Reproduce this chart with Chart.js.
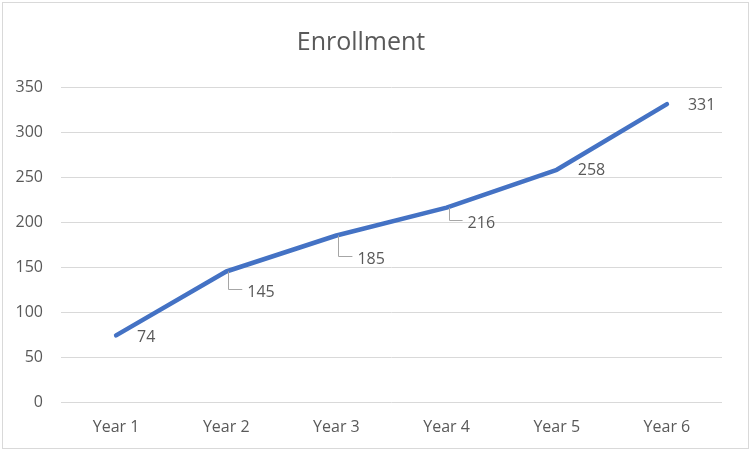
<!DOCTYPE html>
<html>
<head>
<meta charset="utf-8">
<script src="https://cdn.jsdelivr.net/npm/chart.js@4"></script>
<style>
  body { margin: 0; background: #fff; }
  #wrap { width: 752px; height: 452px; }
</style>
</head>
<body>
<div id="wrap"><canvas id="mycanvas" width="752" height="452"></canvas></div>
<script>
var years = ['Year 1', 'Year 2', 'Year 3', 'Year 4', 'Year 5', 'Year 6'];
var enrollment = [74, 145, 185, 216, 258, 331];
var yTicks = [0, 50, 100, 150, 200, 250, 300, 350];

var textColor = '#595959';

// data label placement (offset from point) and which ones get a leader line
var labelOffsets = [[21, 2], [21, 21], [21, 24], [21, 16], [21, 1], [21, 1]];
var leaders = [false, true, true, true, false, false];

var labelPlugin = {
	id: 'labels',
	afterDatasetsDraw: function(chart) {
		var ctx = chart.ctx;
		var meta = chart.getDatasetMeta(0);
		ctx.save();
		ctx.font = '16px "Open Sans"';
		ctx.fillStyle = textColor;
		ctx.textAlign = 'left';
		ctx.textBaseline = 'middle';
		meta.data.forEach(function(pt, i) {
			var tx = pt.x + labelOffsets[i][0];
			var ty = pt.y + labelOffsets[i][1];
			if (leaders[i]) {
				ctx.strokeStyle = '#a6a6a6';
				ctx.lineWidth = 1;
				ctx.beginPath();
				ctx.moveTo(Math.round(pt.x) + 2.5, pt.y);
				ctx.lineTo(Math.round(pt.x) + 2.5, Math.round(ty) - 3.5);
				ctx.lineTo(tx - 5, Math.round(ty) - 3.5);
				ctx.stroke();
			}
			ctx.fillText(chart.data.datasets[0].data[i], tx, ty);
		});
		ctx.restore();
	},
	afterDraw: function(chart) {
		var ctx = chart.ctx;
		ctx.save();
		ctx.strokeStyle = '#d9d9d9';
		ctx.lineWidth = 1;
		ctx.strokeRect(2.5, 2.5, 746, 446);
		ctx.restore();
	}
};

var ctx = document.getElementById('mycanvas');

var lineGraph = new Chart(ctx, {
	type: 'line',
	data: {
		labels: years,
		datasets: [{
			label: 'Enrollment',
			data: enrollment,
			borderColor: '#4472C4',
			borderWidth: 4.5,
			borderJoinStyle: 'round',
			borderCapStyle: 'round',
			pointRadius: 0,
			pointHoverRadius: 0,
			tension: 0,
			fill: false
		}]
	},
	options: {
		responsive: false,
		animation: false,
		layout: { padding: { left: 0, right: 30, top: 0, bottom: 0 } },
		plugins: {
			legend: { display: false },
			tooltip: { enabled: false },
			title: {
				display: true,
				text: 'Enrollment',
				color: textColor,
				font: { family: '"Open Sans"', size: 25, weight: 'normal' },
				padding: { top: 28, bottom: 29 }
			}
		},
		scales: {
			x: {
				offset: true,
				grid: { display: false },
				border: { display: false },
				ticks: {
					color: textColor,
					font: { family: '"Open Sans"', size: 16 },
					padding: 8,
					maxRotation: 0
				},
				afterFit: function(scale) { scale.height = 50; }
			},
			y: {
				min: 0,
				max: 350,
				afterBuildTicks: function(scale) {
					scale.ticks = yTicks.map(function(v) { return { value: v }; });
				},
				grid: { color: '#d9d9d9', lineWidth: 1, drawTicks: false },
				border: { display: false },
				ticks: {
					color: textColor,
					font: { family: '"Open Sans"', size: 16 },
					padding: 18
				},
				afterFit: function(scale) { scale.width = 61; }
			}
		}
	},
	plugins: [labelPlugin]
});
</script>
</body>
</html>
